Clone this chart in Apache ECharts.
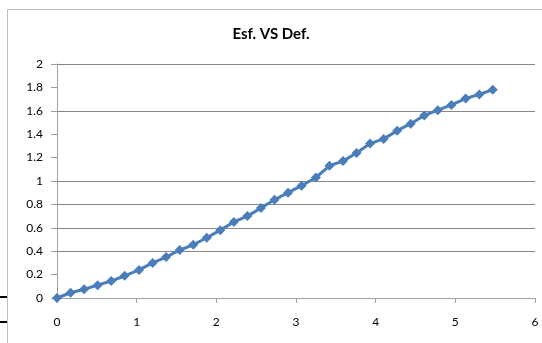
<!DOCTYPE html>
<html>
<head>
<meta charset="utf-8">
<script src="https://cdn.jsdelivr.net/npm/echarts@6/dist/echarts.min.js"></script>
<style>html,body{margin:0;padding:0;background:#fff;}#c{width:542px;height:343px;}</style>
</head>
<body>
<div id="c"></div>
<script>
const titleText = 'Esf. VS Def.';
const xValues = [0, 0.17, 0.34, 0.51, 0.68, 0.85, 1.03, 1.2, 1.37, 1.54, 1.71, 1.88, 2.05, 2.22, 2.39, 2.56, 2.73, 2.9, 3.07, 3.25, 3.42, 3.59, 3.76, 3.93, 4.1, 4.27, 4.44, 4.61, 4.78, 4.95, 5.13, 5.3, 5.47];
const yValues = [0, 0.045, 0.075, 0.11, 0.145, 0.19, 0.24, 0.30, 0.35, 0.41, 0.455, 0.515, 0.58, 0.65, 0.70, 0.77, 0.84, 0.90, 0.96, 1.03, 1.13, 1.17, 1.24, 1.32, 1.36, 1.43, 1.49, 1.56, 1.605, 1.65, 1.705, 1.74, 1.78];
const yTicks = [0, 0.2, 0.4, 0.6, 0.8, 1.0, 1.2, 1.4, 1.6, 1.8, 2.0];
const gridValues = [0.4, 0.6, 0.8, 1.0, 1.6, 2.0];

const splitColors = yTicks.map(v => gridValues.includes(v) ? '#878787' : 'rgba(0,0,0,0)');

const chart = echarts.init(document.getElementById('c'), null, {renderer: 'canvas'});
const font = 'Lato, "Open Sans", sans-serif';
chart.setOption({
  animation: false,
  backgroundColor: '#fff',
  title: {
    text: titleText, left: 'center', top: 22,
    textStyle: {fontFamily: font, fontSize: 15, fontWeight: 'bold', color: '#000'}
  },
  graphic: [
    {type: 'polyline', shape: {points: [[7.5, 343], [7.5, 9.5], [542, 9.5]]}, style: {stroke: '#c0c0c0', lineWidth: 1, fill: null}},
    {type: 'line', shape: {x1: 0, y1: 297, x2: 7, y2: 297}, style: {stroke: '#000', lineWidth: 2}},
    {type: 'line', shape: {x1: 0, y1: 322, x2: 7, y2: 322}, style: {stroke: '#000', lineWidth: 2}}
  ],
  grid: {left: 57, right: 7, top: 64, bottom: 45},
  xAxis: {
    type: 'value', min: 0, max: 6, interval: 1,
    axisLine: {show: true, lineStyle: {color: '#a0a0a0'}},
    axisTick: {show: true, length: 5, lineStyle: {color: '#a0a0a0'}},
    axisLabel: {margin: 18, fontFamily: font, fontSize: 12, color: '#000'},
    splitLine: {show: false}
  },
  yAxis: {
    type: 'value', min: 0, max: 2, interval: 0.2,
    axisLine: {show: true, lineStyle: {color: '#a0a0a0'}},
    axisTick: {show: true, length: 6, lineStyle: {color: '#a0a0a0'}},
    axisLabel: {margin: 14, fontFamily: font, fontSize: 12, color: '#000'},
    splitLine: {show: true, lineStyle: {color: splitColors, width: 1}}
  },
  series: [{
    type: 'line',
    data: xValues.map((x, i) => [x, yValues[i]]),
    symbol: 'diamond', symbolSize: 10,
    lineStyle: {color: '#4a7ebb', width: 3},
    itemStyle: {color: '#4a7ebb'},
    z: 3
  }]
});
</script>
</body>
</html>
